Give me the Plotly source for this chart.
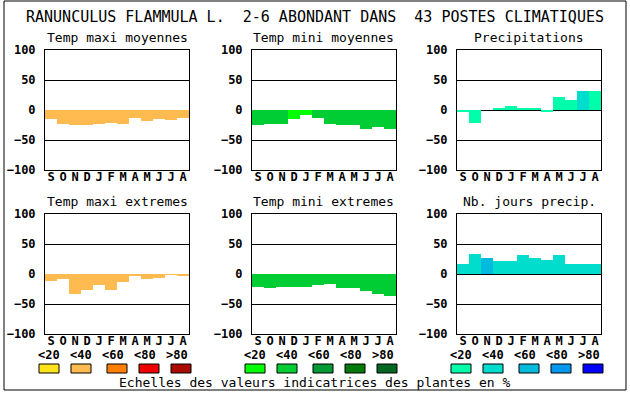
import plotly.graph_objects as go

W, H = 630, 394

months = ["S", "O", "N", "D", "J", "F", "M", "A", "M", "J", "J", "A"]
class_labels = ["<20", "<40", "<60", "<80", ">80"]

pal_max = ["#FFE31A", "#FFBB4F", "#FF8000", "#EE0000", "#AA0A00"]
pal_min = ["#00FF00", "#00CC33", "#009933", "#007A0A", "#006622"]
pal_pre = ["#00FFAA", "#00DDCC", "#00BBDD", "#0099EE", "#0000FF"]

tmax_moy = [-15, -23, -25, -25, -23, -22, -23, -13, -18, -15, -17, -13]
tmax_moy_cls = [1] * 12
tmin_moy = [-25, -23, -23, -15, -8, -13, -23, -25, -25, -32, -28, -32]
tmin_moy_cls = [1, 1, 1, 0, 0, 1, 1, 1, 1, 1, 1, 1]
precip = [-2, -22, 0, 2, 7, 3, 2, -2, 22, 17, 32, 32]
precip_cls = [0, 0, 0, 0, 0, 0, 0, 0, 0, 0, 1, 0]
tmax_ext = [-11, -8, -33, -26, -18, -26, -14, -3, -8, -6, -1, -2]
tmax_ext_cls = [1] * 12
tmin_ext = [-21, -23, -21, -21, -21, -18, -16, -23, -24, -28, -33, -36]
tmin_ext_cls = [1] * 12
nb_jours = [16, 34, 26, 22, 22, 32, 26, 24, 31, 16, 17, 17]
nb_jours_cls = [1, 1, 2, 1, 1, 1, 1, 1, 1, 1, 1, 1]

panels = [
    ("Temp maxi moyennes", tmax_moy, tmax_moy_cls, pal_max),
    ("Temp mini moyennes", tmin_moy, tmin_moy_cls, pal_min),
    ("Precipitations", precip, precip_cls, pal_pre),
    ("Temp maxi extremes", tmax_ext, tmax_ext_cls, pal_max),
    ("Temp mini extremes", tmin_ext, tmin_ext_cls, pal_min),
    ("Nb. jours precip.", nb_jours, nb_jours_cls, pal_pre),
]

FONT = "DejaVu Sans Mono"
# pixel boxes (left, right, top, bottom)
col_x = [(45, 189), (252, 396), (457, 601)]
row_y = [(50, 170), (214, 334)]

fig = go.Figure()
xs = [i + 0.5 for i in range(12)]
annotations = []
for k, (title, vals, cls, pal) in enumerate(panels):
    r, c = divmod(k, 3)
    x0, x1 = col_x[c]
    y0, y1 = row_y[r]
    n = k + 1
    xa = "x" if n == 1 else f"x{n}"
    ya = "y" if n == 1 else f"y{n}"
    fig.add_trace(go.Bar(
        x=xs, y=vals, width=1,
        marker=dict(color=[pal[i] for i in cls], line=dict(width=0)),
        xaxis=xa, yaxis=ya, showlegend=False, hoverinfo="skip",
    ))
    axk = "xaxis" if n == 1 else f"xaxis{n}"
    ayk = "yaxis" if n == 1 else f"yaxis{n}"
    fig.layout[axk] = dict(
        domain=[x0 / W, x1 / W], range=[0, 12], anchor=ya,
        tickvals=xs, ticktext=months, showgrid=False, zeroline=False,
        showline=True, mirror=True, linecolor="black", linewidth=1,
        ticks="", tickfont=dict(family=FONT, size=12, color="black", weight="bold"),
        ticklabelstandoff=-4, fixedrange=True, automargin=False,
    )
    fig.layout[ayk] = dict(
        domain=[1 - y1 / H, 1 - y0 / H], range=[-100, 100], anchor=xa,
        tickvals=[-100, -50, 0, 50, 100],
        showgrid=True, gridcolor="black", gridwidth=1,
        zeroline=True, zerolinecolor="black", zerolinewidth=1,
        showline=True, mirror=True, linecolor="black", linewidth=1,
        ticks="", tickfont=dict(family=FONT, size=12, color="black", weight="bold"),
        ticklabelstandoff=6, fixedrange=True, automargin=False,
    )
    annotations.append(dict(
        text=title, x=(x0 + x1) / 2 / W, y=1 - (y0 - 13) / H,
        xref="paper", yref="paper", showarrow=False,
        xanchor="center", yanchor="middle",
        font=dict(family=FONT, size=13, color="black"),
    ))

# main title
annotations.append(dict(
    text="RANUNCULUS FLAMMULA L.  2-6 ABONDANT DANS  43 POSTES CLIMATIQUES".replace(" ", "\u00a0"),
    x=315 / W, y=1 - 17 / H, xref="paper", yref="paper", showarrow=False,
    xanchor="center", yanchor="middle", font=dict(family=FONT, size=15, color="black"),
))

shapes = []
group_starts = [39, 245, 451]
offsets = [0, 32, 68, 100, 132]
label_offsets = [10, 42, 74, 106, 138]
pals = [pal_max, pal_min, pal_pre]
for g, gs in enumerate(group_starts):
    for j in range(5):
        sx = gs + offsets[j]
        shapes.append(dict(
            type="rect", xref="paper", yref="paper",
            x0=sx / W, x1=(sx + 20) / W, y0=1 - 373 / H, y1=1 - 364 / H,
            fillcolor=pals[g][j], line=dict(color="black", width=1),
        ))
        annotations.append(dict(
            text=class_labels[j], x=(gs + label_offsets[j]) / W, y=1 - 355 / H,
            xref="paper", yref="paper", showarrow=False,
            xanchor="center", yanchor="middle",
            font=dict(family=FONT, size=12, color="black", weight="bold"),
        ))

annotations.append(dict(
    text="Echelles des valeurs indicatrices des plantes en %",
    x=315 / W, y=1 - 382 / H, xref="paper", yref="paper", showarrow=False,
    xanchor="center", yanchor="middle", font=dict(family=FONT, size=13, color="black"),
))

# outer frame
shapes.append(dict(
    type="rect", xref="paper", yref="paper",
    x0=4 / W, x1=626 / W, y0=1 - 390 / H, y1=1 - 1 / H,
    line=dict(color="black", width=1), fillcolor="rgba(0,0,0,0)",
))

fig.update_layout(
    width=W, height=H,
    margin=dict(l=0, r=0, t=0, b=0, pad=0, autoexpand=False),
    paper_bgcolor="white", plot_bgcolor="white",
    annotations=annotations, shapes=shapes, bargap=0,
)
post = (
    "document.documentElement.style.margin='0';"
    "document.body.style.margin='0';document.body.style.padding='0';"
    "document.body.style.overflow='hidden';"
    "var d=document.getElementById('{plot_id}');"
    "d.style.position='fixed';d.style.left='0px';d.style.top='0px';"
)
fig.write_html("out.html", config={"displayModeBar": False}, post_script=post)
